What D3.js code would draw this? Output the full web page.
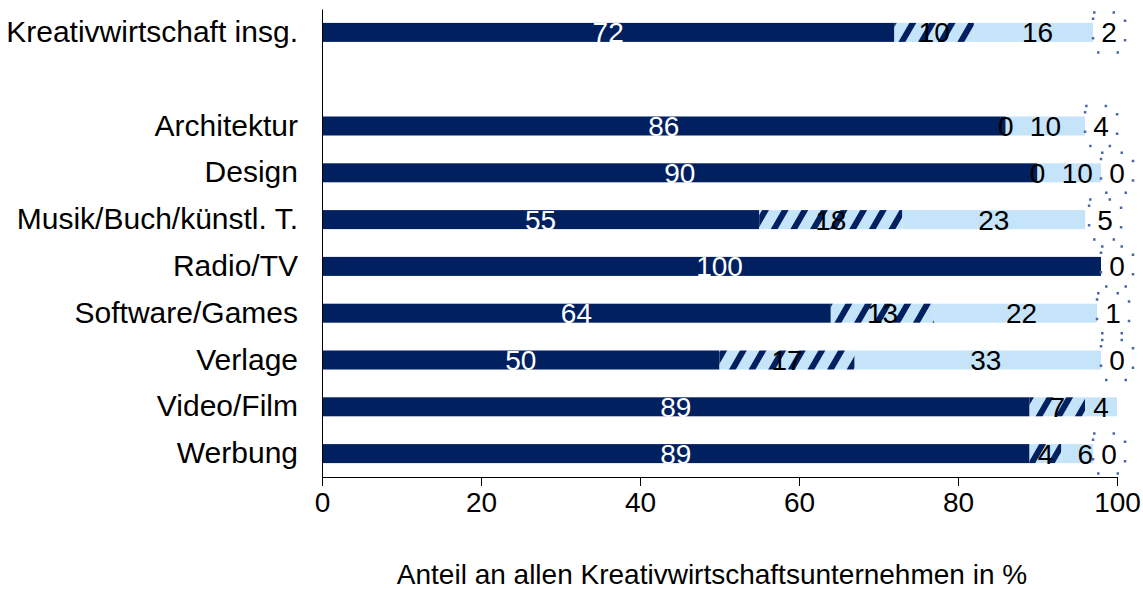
<!DOCTYPE html>
<html>
<head>
<meta charset="utf-8">
<script src="https://cdn.jsdelivr.net/npm/d3@7"></script>
<style>
  body { margin: 0; background: #fff; }
  text { font-family: "Liberation Sans", Arial, sans-serif; }
</style>
</head>
<body>
<div id="chart"></div>
<script>
// Daten (Anteile in %), leere Zeile "" = Abstand nach dem Gesamtwert
const categories = ["Kreativwirtschaft insg.", "", "Architektur", "Design", "Musik/Buch/künstl. T.",
  "Radio/TV", "Software/Games", "Verlage", "Video/Film", "Werbung"];
const serie1 = [72, null, 86, 90, 55, 100, 64, 50, 89, 89];   // dunkelblau
const serie2 = [10, null, 0, 0, 18, null, 13, 17, 7, 4];       // schraffiert
const serie3 = [16, null, 10, 10, 23, null, 22, 33, 4, 6];     // hellblau
const serie4 = [2, null, 4, 0, 5, 0, 1, 0, null, 0];           // gepunktet (nur Label)
const xTicks = [0, 20, 40, 60, 80, 100];
const xTitle = "Anteil an allen Kreativwirtschaftsunternehmen in %";

const width = 1143;
const height = 589;
const margin = { top: 9, bottom: 112, left: 322, right: 26 };
const fontSize = 28;

const svg = d3.select("div#chart").append("svg")
  .attr("width", width)
  .attr("height", height);

// Muster: Schraffur
const defs = svg.append("defs");
const hatch = defs.append("pattern")
  .attr("id", "hatch")
  .attr("patternUnits", "userSpaceOnUse")
  .attr("width", 17)
  .attr("height", 17)
  .attr("patternTransform", "rotate(30)");
hatch.append("rect").attr("width", 17).attr("height", 17).attr("fill", "#c6e4f9");
hatch.append("rect").attr("width", 6).attr("height", 17).attr("fill", "#002060");

const x = d3.scaleLinear().domain([0, 100]).range([margin.left, width - margin.right]);
const y = d3.scaleBand()
  .domain(categories)
  .range([margin.top, height - margin.bottom])
  .paddingInner(0.594)
  .paddingOuter(0.297);

// Stapel berechnen
const series = [serie1, serie2, serie3];
const fills = ["#002060", "url(#hatch)", "#c6e4f9"];
const textFills = ["#fff", "#000", "#000"];
const segments = [];
const boxes = [];
categories.forEach((c, i) => {
  let start = 0;
  series.forEach((s, k) => {
    const v = s[i];
    if (v == null) return;
    segments.push({ cat: c, x0: start, x1: start + v, v: v, k: k });
    start += v;
  });
  if (serie4[i] != null) {
    boxes.push({ cat: c, mid: start + serie4[i] / 2, v: serie4[i] });
  }
});

const barGroup = svg.append("g").attr("id", "barGroup");

barGroup.selectAll("rect")
  .data(segments)
  .enter().append("rect")
  .attr("x", d => x(d.x0))
  .attr("y", d => y(d.cat))
  .attr("width", d => x(d.x1) - x(d.x0))
  .attr("height", y.bandwidth())
  .attr("fill", d => fills[d.k]);

barGroup.selectAll("text.seg")
  .data(segments)
  .enter().append("text")
  .attr("class", "seg")
  .attr("x", d => x((d.x0 + d.x1) / 2))
  .attr("y", d => y(d.cat) + y.bandwidth() / 2)
  .attr("dy", "0.36em")
  .attr("text-anchor", "middle")
  .attr("font-size", fontSize)
  .attr("fill", d => textFills[d.k])
  .text(d => d.v);

// Label der 4. Reihe mit weißem Kasten und gepunktetem Rand
const boxW = 32, boxH = 40;
const boxG = barGroup.selectAll("g.box")
  .data(boxes)
  .enter().append("g")
  .attr("class", "box");

boxG.append("rect")
  .attr("x", d => x(d.mid) - boxW / 2)
  .attr("y", d => y(d.cat) + y.bandwidth() / 2 - boxH / 2)
  .attr("width", boxW)
  .attr("height", boxH)
  .attr("fill", "#fff")
  .attr("stroke", "#4a68a8")
  .attr("stroke-width", 2.5)
  .attr("stroke-dasharray", "2.5 17");

boxG.append("text")
  .attr("x", d => x(d.mid))
  .attr("y", d => y(d.cat) + y.bandwidth() / 2)
  .attr("dy", "0.36em")
  .attr("text-anchor", "middle")
  .attr("font-size", fontSize)
  .attr("fill", "#000")
  .text(d => d.v);

// Achsen
const xAxis = d3.axisBottom(x).tickValues(xTicks).tickSize(9).tickSizeOuter(0).tickPadding(6);
const yAxis = d3.axisLeft(y).tickSize(0).tickPadding(24);

const xAxisGroup = svg.append("g")
  .attr("id", "xAxisGroup")
  .attr("transform", `translate(0, ${height - margin.bottom})`)
  .call(xAxis);

const yAxisGroup = svg.append("g")
  .attr("id", "yAxisGroup")
  .attr("transform", `translate(${margin.left}, 0)`)
  .call(yAxis);

svg.selectAll(".tick text")
  .attr("font-family", "Liberation Sans, Arial, sans-serif")
  .attr("fill", "#000");
xAxisGroup.selectAll(".tick text").attr("font-size", fontSize);
yAxisGroup.selectAll(".tick text").attr("font-size", 30);
svg.selectAll(".domain, .tick line").attr("stroke", "#000");

svg.append("text")
  .attr("x", 712)
  .attr("y", 584)
  .attr("text-anchor", "middle")
  .attr("font-size", fontSize)
  .attr("fill", "#000")
  .text(xTitle);
</script>
</body>
</html>
